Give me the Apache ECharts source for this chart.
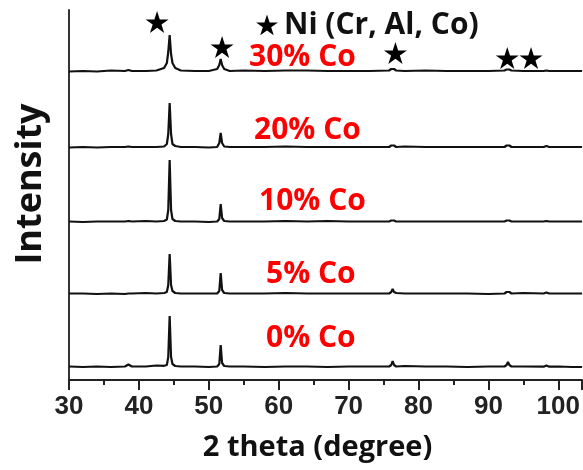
<!DOCTYPE html>
<html>
<head>
<meta charset="utf-8">
<script src="https://cdn.jsdelivr.net/npm/echarts@6/dist/echarts.min.js"></script>
<style>
  html, body { margin: 0; padding: 0; background: #fff; }
  #chart { width: 583px; height: 470px; }
</style>
</head>
<body>
<div id="chart"></div>
<script>
  // 2 theta positions shared by all patterns (denser around the Ni peaks)
  var twoTheta = [30, 32, 34, 36, 38, 38.5, 39, 41, 42.5, 43.6, 44.0, 44.2, 44.4, 44.6, 44.8, 45.2, 46, 48, 50,
    51.2, 51.5, 51.7, 51.9, 52.2, 53, 55, 58, 61, 64, 67, 70, 73, 75.8, 76.1, 76.3, 76.5, 76.8, 78, 81, 84, 87, 90,
    92.3, 92.6, 92.8, 93.0, 93.3, 95, 97.9, 98.3, 98.7, 100, 102, 103.4]

  // intensities above each baseline (a.u.)
  var co0 = [0.5, 0, 0.5, 0, 0.5, 2.5, 0.5, 0.5, 1.5, 1.2, 2, 10, 51, 10, 3, 1, 0.5, 0.5, 0, 0.5, 3, 22, 4, 1, 0.5,
    0.5, 0, 0.5, 0.5, 0, 0.5, 0.5, 0.5, 2, 6, 2, 0.5, 1, 0.5, 0.5, 0, 0.5, 0.5, 2, 5, 2, 0.5, 0.5, 0.3, 1.5, 0.3, 0.5, 0, 0]
  var co5 = [0.5, 0.5, 0, 0.5, 0, 0.5, 0.5, 1, 0.5, 1, 2, 9, 40, 9, 3, 1, 0.5, 0.5, 0.5, 0.5, 3, 21, 4, 1, 0.5,
    0.5, 0.5, 1, 0.5, 0.5, 0.5, 0.5, 0.5, 2, 5, 2, 1, 0.5, 0.5, 0.5, 0.5, 0, 0.5, 2, 4, 2, 0.5, 1, 0.5, 1.5, 0.5, 0.5, 0.5, 0.5]
  var co10 = [0.5, 0, 0.5, 0.5, 0.5, 1, 0.5, 1, 0.5, 1, 2.5, 12, 62, 12, 3, 1, 0.5, 0.5, 0, 0.5, 3, 18, 4, 1, 0.5,
    0.5, 0.5, 1, 0.5, 1, 0.5, 0.5, 0.5, 1.5, 3, 1.5, 0.5, 0.5, 0.5, 0.5, 0.5, 0.5, 0.5, 1.5, 3, 1.5, 0.5, 0.5, 0.5, 1, 0.5, 0.5, 0.5, 0.5]
  var co20 = [0.5, 1, 0.5, 1, 1, 1.5, 1, 1, 1, 1.5, 4, 14, 45, 14, 4, 2, 1, 1, 0.5, 1, 5, 15, 5, 1.5, 1,
    1, 1, 1.5, 1, 1, 1, 1, 1, 2.5, 4, 2.5, 1, 1.5, 1, 1, 1, 1, 1, 2.5, 4, 2.5, 1, 1, 1, 2, 1, 1, 1, 1]
  var co30 = [0.5, 1, 0.5, 1.5, 1, 2, 1, 1, 1.5, 4, 9, 20, 37, 18, 9, 4, 1.5, 1, 1, 3, 7, 13, 7, 3, 1,
    1.5, 1, 1.5, 1.5, 1, 1, 1, 1.5, 3, 4, 3, 1.5, 1, 1.5, 1, 1, 1, 1.5, 2.5, 3, 2.5, 1.5, 1, 1, 1.5, 1, 1, 1, 1]

  var sampleNames = ['0% Co', '5% Co', '10% Co', '20% Co', '30% Co']
  var offsets = [13, 86, 158, 232, 308]

  // star markers for the Ni peaks
  var starX = [42.6, 51.9, 76.7, 92.7, 96.1]
  var starY = [358, 333, 327, 322, 322]

  var xTicks = [30, 40, 50, 60, 70, 80, 90, 100]

  var starPts = [[0, -10], [2.25, -3.09], [9.51, -3.09], [3.63, 1.18], [5.88, 8.09], [0, 3.82],
    [-5.88, 8.09], [-3.63, 1.18], [-9.51, -3.09], [-2.25, -3.09]]
  var starPath = 'path://M' + starPts.map(function (p) { return p[0] + ',' + p[1] }).join(' L') + ' Z'

  function shift (vals, off) {
    return twoTheta.map(function (t, i) { return [t, vals[i] + off] })
  }

  var patterns = [co0, co5, co10, co20, co30]
  var series = patterns.map(function (vals, k) {
    return {
      name: sampleNames[k],
      type: 'line',
      showSymbol: false,
      symbol: 'none',
      lineStyle: { color: '#111', width: 2.2 },
      data: shift(vals, offsets[k])
    }
  })
  series.push({
    name: 'Ni',
    type: 'scatter',
    symbol: starPath,
    symbolSize: [23, 22],
    itemStyle: { color: '#000', opacity: 1 },
    data: starX.map(function (x, i) { return [x, starY[i]] })
  })

  // red sample labels, left edge / vertical centre in px
  var labelPos = [[266, 338], [266, 274], [259, 201], [254, 130], [249, 57]]
  var graphics = sampleNames.map(function (n, k) {
    return {
      type: 'text',
      x: labelPos[k][0],
      y: labelPos[k][1],
      style: {
        text: n,
        fill: '#ff0000',
        font: 'bold 30px "Open Sans"',
        textAlign: 'left',
        textVerticalAlign: 'middle'
      }
    }
  })
  graphics.push({
    type: 'polygon',
    x: 267,
    y: 26,
    scaleX: 1.15,
    scaleY: 1.15,
    shape: { points: starPts },
    style: { fill: '#000' }
  })
  graphics.push({
    type: 'text',
    x: 284,
    y: 25,
    style: {
      text: 'Ni (Cr, Al, Co)',
      fill: '#111',
      font: 'bold 30px "Open Sans"',
      textAlign: 'left',
      textVerticalAlign: 'middle'
    }
  })
  graphics.push({
    type: 'text',
    x: 31,
    y: 184,
    rotation: Math.PI / 2,
    style: {
      text: 'Intensity',
      fill: '#111',
      font: 'bold 36px "Open Sans"',
      textAlign: 'center',
      textVerticalAlign: 'middle'
    }
  })

  var chart = echarts.init(document.getElementById('chart'))
  chart.setOption({
    animation: false,
    grid: { left: 69, right: 0, top: 10, bottom: 90 },
    xAxis: {
      type: 'value',
      min: 30,
      max: 103.4,
      interval: 10,
      name: '2 theta (degree)',
      nameLocation: 'middle',
      nameGap: 53,
      nameTextStyle: { fontFamily: 'Open Sans', fontWeight: 'bold', fontSize: 29, color: '#111', padding: [0, 16, 0, 0] },
      axisLine: { lineStyle: { color: '#222', width: 2 } },
      axisTick: { show: true, length: 10, lineStyle: { color: '#222', width: 2 } },
      minorTick: { show: true, splitNumber: 2, length: 5, lineStyle: { color: '#222', width: 2 } },
      splitLine: { show: false },
      axisLabel: {
        showMaxLabel: false,
        margin: 14,
        fontFamily: 'Liberation Sans',
        fontWeight: 'bold',
        fontSize: 26,
        color: '#222',
        formatter: function (v) { return xTicks.indexOf(v) >= 0 ? String(v) : '' }
      }
    },
    yAxis: {
      type: 'value',
      min: 0,
      max: 370,
      axisLine: { show: true, lineStyle: { color: '#333', width: 2 } },
      axisTick: { show: false },
      axisLabel: { show: false },
      splitLine: { show: false }
    },
    series: series,
    graphic: graphics
  })
</script>
</body>
</html>
